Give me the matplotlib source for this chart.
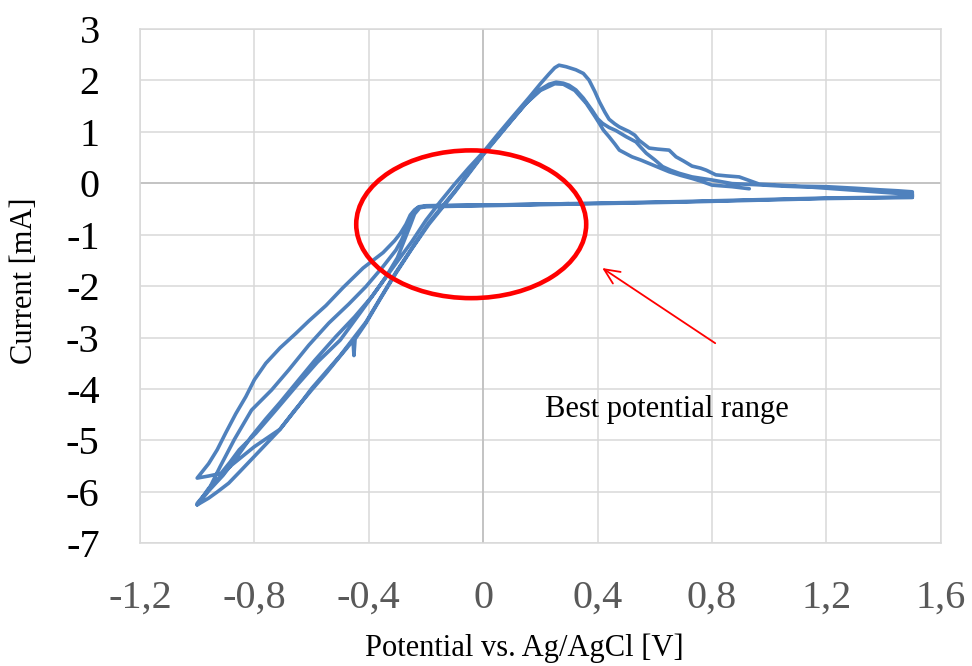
import matplotlib
matplotlib.use('Agg')
import matplotlib.pyplot as plt
from matplotlib.patches import Ellipse

plt.rcParams['font.family'] = ['Liberation Serif', 'DejaVu Serif']

# potential (V) / current (mA), one list pair per sweep
# sweep 1: cathodic start, outer branch
sweep1_v = [0.3, 0.1, -0.1, -0.2, -0.225, -0.24, -0.255, -0.27, -0.29, -0.31, -0.35, -0.42, -0.49, -0.55,
            -0.61, -0.655, -0.71, -0.76, -0.80, -0.83, -0.865, -0.90, -0.93, -0.96, -1.0]
sweep1_i = [-0.40, -0.42, -0.43, -0.44, -0.46, -0.52, -0.62, -0.80, -0.98, -1.12, -1.35, -1.65, -2.03, -2.38,
            -2.68, -2.92, -3.20, -3.50, -3.82, -4.15, -4.48, -4.85, -5.18, -5.45, -5.73]

# sweep 2: first anodic scan (highest peak)
sweep2_v = [-1.0, -0.96, -0.917, -0.885, -0.853, -0.795, -0.725, -0.65, -0.58, -0.50, -0.43, -0.36, -0.30,
            -0.25, -0.20, -0.15, -0.10, -0.05, 0.0, 0.05, 0.10, 0.16, 0.20, 0.23, 0.25, 0.265, 0.29, 0.324,
            0.35, 0.37, 0.39, 0.406, 0.425, 0.44, 0.46, 0.476, 0.51, 0.53, 0.545, 0.58, 0.61, 0.65, 0.674,
            0.70, 0.73, 0.76, 0.78, 0.813, 0.85, 0.895, 0.93, 0.965, 1.035, 1.1, 1.2, 1.3, 1.385, 1.45, 1.5]
sweep2_i = [-5.73, -5.69, -5.64, -5.42, -5.18, -4.86, -4.41, -3.92, -3.48, -3.05, -2.52, -1.98, -1.52,
            -1.14, -0.72, -0.36, -0.02, 0.30, 0.60, 0.94, 1.27, 1.66, 1.93, 2.12, 2.24, 2.29, 2.26, 2.20,
            2.13, 2.00, 1.78, 1.58, 1.38, 1.24, 1.15, 1.09, 1.00, 0.93, 0.83, 0.68, 0.66, 0.64, 0.51,
            0.43, 0.33, 0.29, 0.25, 0.16, 0.14, 0.12, 0.05, -0.02, -0.04, -0.06, -0.07, -0.10, -0.13, -0.15, -0.17]

# sweep 3: cathodic scan, inner branch
sweep3_v = [1.5, 1.2, 0.9, 0.685, 0.4, 0.0, -0.2, -0.226, -0.245, -0.262, -0.285, -0.305, -0.35, -0.41,
            -0.47, -0.54, -0.61, -0.68, -0.74, -0.81, -0.87, -0.92, -0.96, -1.0]
sweep3_i = [-0.27, -0.29, -0.33, -0.36, -0.39, -0.43, -0.45, -0.47, -0.58, -0.80, -1.10, -1.30, -1.62, -2.01,
            -2.35, -2.72, -3.15, -3.63, -4.02, -4.41, -4.98, -5.51, -5.96, -6.22]

# sweep 4: second anodic scan
sweep4_v = [-1.0, -0.96, -0.93, -0.89, -0.85, -0.79, -0.713, -0.66, -0.60, -0.55, -0.503, -0.47, -0.455,
            -0.452, -0.448, -0.41, -0.36, -0.305, -0.25, -0.19, -0.1, 0.0, 0.1, 0.15, 0.2, 0.23, 0.255,
            0.28, 0.30, 0.324, 0.35, 0.38, 0.40, 0.417, 0.44, 0.464, 0.5, 0.534, 0.55, 0.57, 0.6, 0.627,
            0.655, 0.685, 0.73, 0.765, 0.80, 0.87, 0.95, 1.05, 1.15, 1.25, 1.35, 1.45, 1.5]
sweep4_i = [-6.25, -6.12, -6.00, -5.83, -5.60, -5.25, -4.80, -4.42, -4.02, -3.70, -3.38, -3.16, -3.06,
            -3.35, -3.03, -2.72, -2.25, -1.75, -1.28, -0.80, -0.18, 0.55, 1.22, 1.55, 1.82, 1.92, 1.96,
            1.94, 1.90, 1.81, 1.65, 1.42, 1.25, 1.16, 1.08, 1.02, 0.90, 0.80, 0.70, 0.58, 0.45, 0.32,
            0.25, 0.19, 0.12, 0.09, 0.06, -0.01, -0.03, -0.06, -0.08, -0.12, -0.16, -0.20, -0.22]

# sweep 5: cathodic scan, second inner branch
sweep5_v = [1.5, 1.2, 0.9, 0.685, 0.4, 0.0, -0.2, -0.222, -0.24, -0.255, -0.275, -0.30, -0.34, -0.39,
            -0.45, -0.515, -0.59, -0.655, -0.71, -0.76, -0.81, -0.865, -0.91, -0.96, -1.0]
sweep5_i = [-0.28, -0.30, -0.34, -0.37, -0.40, -0.44, -0.46, -0.48, -0.60, -0.82, -1.10, -1.45, -1.82, -2.21,
            -2.60, -2.98, -3.45, -3.89, -4.26, -4.58, -4.92, -5.35, -5.68, -5.98, -6.25]

# sweep 6: last anodic scan, stops near 0.93 V
sweep6_v = [-1.0, -0.96, -0.88, -0.80, -0.71, -0.65, -0.60, -0.50, -0.41, -0.305, -0.19, -0.1, 0.0, 0.1,
            0.15, 0.2, 0.25, 0.28, 0.32, 0.36, 0.39, 0.406, 0.42, 0.44, 0.46, 0.476, 0.5, 0.52, 0.55,
            0.58, 0.615, 0.65, 0.69, 0.73, 0.765, 0.80, 0.87, 0.93]
sweep6_i = [-6.25, -5.93, -5.48, -5.12, -4.78, -4.36, -3.99, -3.35, -2.70, -1.73, -0.77, -0.16, 0.57, 1.23,
            1.55, 1.80, 1.93, 1.92, 1.80, 1.55, 1.30, 1.16, 1.03, 0.90, 0.76, 0.64, 0.57, 0.51, 0.45,
            0.38, 0.30, 0.22, 0.15, 0.09, 0.03, -0.04, -0.07, -0.11]

potential = sweep1_v + sweep2_v + sweep3_v + sweep4_v + sweep5_v + sweep6_v
current = sweep1_i + sweep2_i + sweep3_i + sweep4_i + sweep5_i + sweep6_i

xticks = [-1.2, -0.8, -0.4, 0.0, 0.4, 0.8, 1.2, 1.6]
xtick_labels = ['-1,2', '-0,8', '-0,4', '0', '0,4', '0,8', '1,2', '1,6']
yticks = [3, 2, 1, 0, -1, -2, -3, -4, -5, -6, -7]

fig = plt.figure(figsize=(9.72, 6.66), dpi=100)
ax = fig.add_axes([0.144, 0.184, 0.824, 0.773])

ax.plot(potential, current, color='#4F81BD', lw=2.6, solid_joinstyle='round', solid_capstyle='round', zorder=4)

ax.set_xlim(-1.2, 1.6)
ax.set_ylim(-7, 3)
ax.set_xticks(xticks)
ax.set_xticklabels(xtick_labels)
ax.set_yticks(yticks)
ax.set_yticklabels([str(t) for t in yticks])

ax.grid(True, color='#D9D9D9', lw=1.1)
ax.set_axisbelow(True)
ax.axhline(0, color='#BFBFBF', lw=1.2, zorder=1)
ax.axvline(0, color='#BFBFBF', lw=1.2, zorder=1)
for s in ax.spines.values():
    s.set_color('#D9D9D9')
    s.set_linewidth(1.1)

ax.tick_params(axis='x', length=0, pad=26, labelsize=29, colors='#595959')
ax.tick_params(axis='y', length=0, pad=29, labelsize=29, colors='black')

ax.set_xlabel('Potential vs. Ag/AgCl [V]', fontsize=22, va='center')
ax.xaxis.set_label_coords(0.48, -0.203)
ax.set_ylabel('Current [mA]', fontsize=22, va='center')
ax.yaxis.set_label_coords(-0.1436, 0.51)

# highlighted window and note
ax.add_patch(Ellipse((-0.042, -0.80), 0.804, 2.87, fill=False, ec='#FF0000', lw=3.3, zorder=5))
ax.annotate('', xy=(0.416, -1.65), xytext=(0.811, -3.11),
            arrowprops=dict(arrowstyle='->,head_length=0.55,head_width=0.25', mutation_scale=20,
                            color='#FF0000', lw=1.3, shrinkA=0, shrinkB=0), zorder=5)
ax.text(0.643, -4.54, 'Best potential range', ha='center', va='baseline', fontsize=22)

fig.savefig('out.png', dpi=100)
